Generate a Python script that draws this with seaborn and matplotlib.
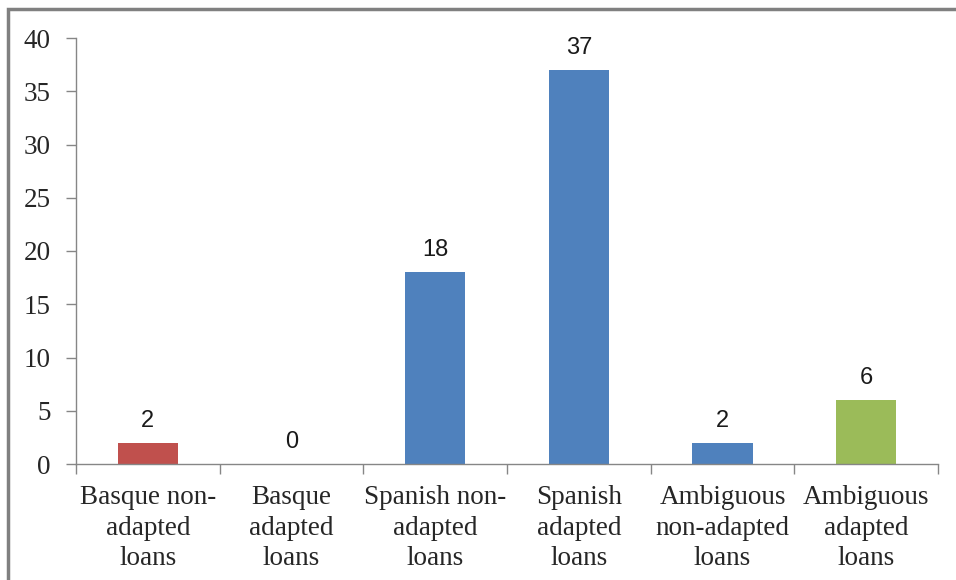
import matplotlib
matplotlib.use("Agg")
import matplotlib.pyplot as plt
from matplotlib.patches import Rectangle
import seaborn as sns
import pandas as pd

categories = [
    "Basque non-\nadapted\nloans",
    "Basque\nadapted\nloans",
    "Spanish non-\nadapted\nloans",
    "Spanish\nadapted\nloans",
    "Ambiguous\nnon-adapted\nloans",
    "Ambiguous\nadapted\nloans",
]
counts = [2, 0, 18, 37, 2, 6]
bar_colors = ["#C0504D", "#4F81BD", "#4F81BD", "#4F81BD", "#4F81BD", "#9BBB59"]
y_ticks = [0, 5, 10, 15, 20, 25, 30, 35, 40]

sns.set_theme(style="white")
plt.rcParams["font.family"] = ["Liberation Serif", "DejaVu Serif"]

df = pd.DataFrame({"category": categories, "count": counts})

fig = plt.figure(figsize=(9.56, 5.8), dpi=100)
ax = fig.add_axes([76 / 956, 1 - 464 / 580, (938 - 76) / 956, (464 - 38) / 580])

sns.barplot(data=df, x="category", y="count", hue="category",
            palette=bar_colors, legend=False, width=0.42,
            edgecolor="none", saturation=1, ax=ax)

axis_gray = "#868686"
ax.set_ylim(0, 40)
ax.set_xlim(-0.5, len(categories) - 0.5)
ax.set_yticks(y_ticks)
ax.set_yticklabels([str(v) for v in y_ticks], fontsize=19.5,
                   family=["Liberation Serif", "DejaVu Serif"])

# category names sit under the bars, tick marks sit between them
ax.set_xticks([i - 0.5 for i in range(len(categories) + 1)])
ax.set_xticklabels([])
ax.set_xticks(range(len(categories)), minor=True)
ax.set_xticklabels(categories, minor=True, fontsize=19.5, linespacing=1.3,
                   family=["Liberation Serif", "DejaVu Serif"])
ax.tick_params(axis="x", which="minor", length=0, pad=15)
ax.tick_params(axis="x", which="major", direction="out", length=7,
               width=1, color=axis_gray, bottom=True)
ax.tick_params(axis="y", direction="out", length=7, width=1,
               color=axis_gray, left=True, pad=11)

ax.set_xlabel("")
ax.set_ylabel("")
for side in ["top", "right"]:
    ax.spines[side].set_visible(False)
for side in ["left", "bottom"]:
    ax.spines[side].set_color(axis_gray)
    ax.spines[side].set_linewidth(1)

for i, v in enumerate(counts):
    ax.annotate(str(v), (i, v), xytext=(0, 8), textcoords="offset points",
                ha="center", va="bottom", fontsize=17,
                family=["Liberation Sans", "DejaVu Sans"], color="#1a1a1a")

# chart frame
fig.patches.append(Rectangle((8 / 956, -0.05), 1.2, 1 - 9 / 580 + 0.05,
                             transform=fig.transFigure, fill=False,
                             edgecolor="#808080", linewidth=2.5))

fig.savefig("out.png", dpi=100, facecolor="white")
